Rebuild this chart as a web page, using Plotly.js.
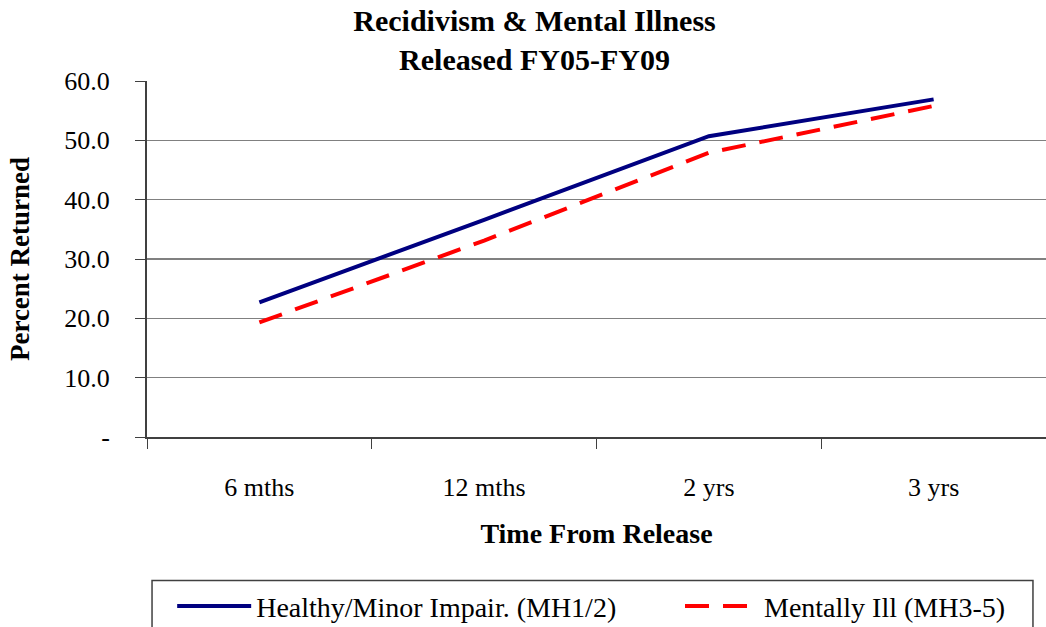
<!DOCTYPE html>
<html>
<head>
<meta charset="utf-8">
<script src="https://cdn.plot.ly/plotly-3.0.1.min.js"></script>
<style>
html,body{margin:0;padding:0;background:#fff;}
#chart{width:1046px;height:627px;}
</style>
</head>
<body>
<div id="chart"></div>
<script>
const categories = ['6 mths', '12 mths', '2 yrs', '3 yrs'];
const healthy = [22.7, 36.6, 50.7, 56.9];
const mentallyIll = [19.3, 33.1, 47.9, 55.8];
const seriesNames = ['Healthy/Minor Impair. (MH1/2)', 'Mentally Ill (MH3-5)'];
const yTickVals = [0, 10, 20, 30, 40, 50, 60];
const yTickText = ['-', '10.0', '20.0', '30.0', '40.0', '50.0', '60.0'];

const FONT = 'Liberation Serif, Times New Roman, serif';

const traces = [
  {
    x: categories, y: healthy, name: seriesNames[0], type: 'scatter', mode: 'lines',
    line: {color: '#000080', width: 4}, legend: 'legend'
  },
  {
    x: categories, y: mentallyIll, name: seriesNames[1], type: 'scatter', mode: 'lines',
    line: {color: '#FF0000', width: 4, dash: '24px,14px'}, legend: 'legend2'
  }
];

const legendCommon = {
  orientation: 'h', xanchor: 'left', y: -0.405, yanchor: 'top',
  font: {family: FONT, size: 28}, bgcolor: 'rgba(0,0,0,0)', borderwidth: 0,
  itemwidth: 74
};

const layout = {
  width: 1046, height: 627,
  paper_bgcolor: '#ffffff', plot_bgcolor: '#ffffff',
  margin: {l: 147, r: 0, t: 81, b: 190, pad: 0, autoexpand: false},
  font: {family: FONT, color: '#000000', size: 26},
  title: {
    text: '<b>Recidivism & Mental Illness<br>Released FY05-FY09</b>',
    font: {family: FONT, size: 30, color: '#000000'},
    xref: 'container', x: 0.511, xanchor: 'center',
    yref: 'container', y: 0.951, yanchor: 'top'
  },
  xaxis: {
    type: 'category', range: [-0.5, 3.5], automargin: false,
    showline: true, linecolor: '#404040', linewidth: 2,
    ticks: 'outside', tickson: 'boundaries', ticklen: 10, tickcolor: '#404040', tickwidth: 1,
    showgrid: false, zeroline: false,
    tickfont: {family: FONT, size: 26},
    ticklabelstandoff: 26,
    title: {text: '<b>Time From Release</b>', font: {family: FONT, size: 28}, standoff: 22}
  },
  yaxis: {
    range: [0, 60], tickvals: yTickVals, ticktext: yTickText, automargin: false,
    showline: true, linecolor: '#404040', linewidth: 2,
    ticks: 'outside', ticklen: 10, tickcolor: '#404040', tickwidth: 1,
    showgrid: true, gridcolor: '#808080', gridwidth: 1.5, zeroline: false,
    tickfont: {family: FONT, size: 26},
    ticklabelstandoff: 20,
    title: {text: '<b>Percent Returned</b>', font: {family: FONT, size: 27}, standoff: 27}
  },
  showlegend: true,
  legend: Object.assign({}, legendCommon, {x: 0.028}),
  legend2: Object.assign({}, legendCommon, {x: 0.5929}),
  shapes: [{
    type: 'rect', xref: 'paper', yref: 'paper',
    x0: 0.0056, x1: 0.9855, y0: -0.403, y1: -0.6,
    line: {color: '#404040', width: 1.5}, fillcolor: 'rgba(0,0,0,0)', layer: 'above'
  }]
};

Plotly.newPlot('chart', traces, layout, {displayModeBar: false, staticPlot: true});
</script>
</body>
</html>
